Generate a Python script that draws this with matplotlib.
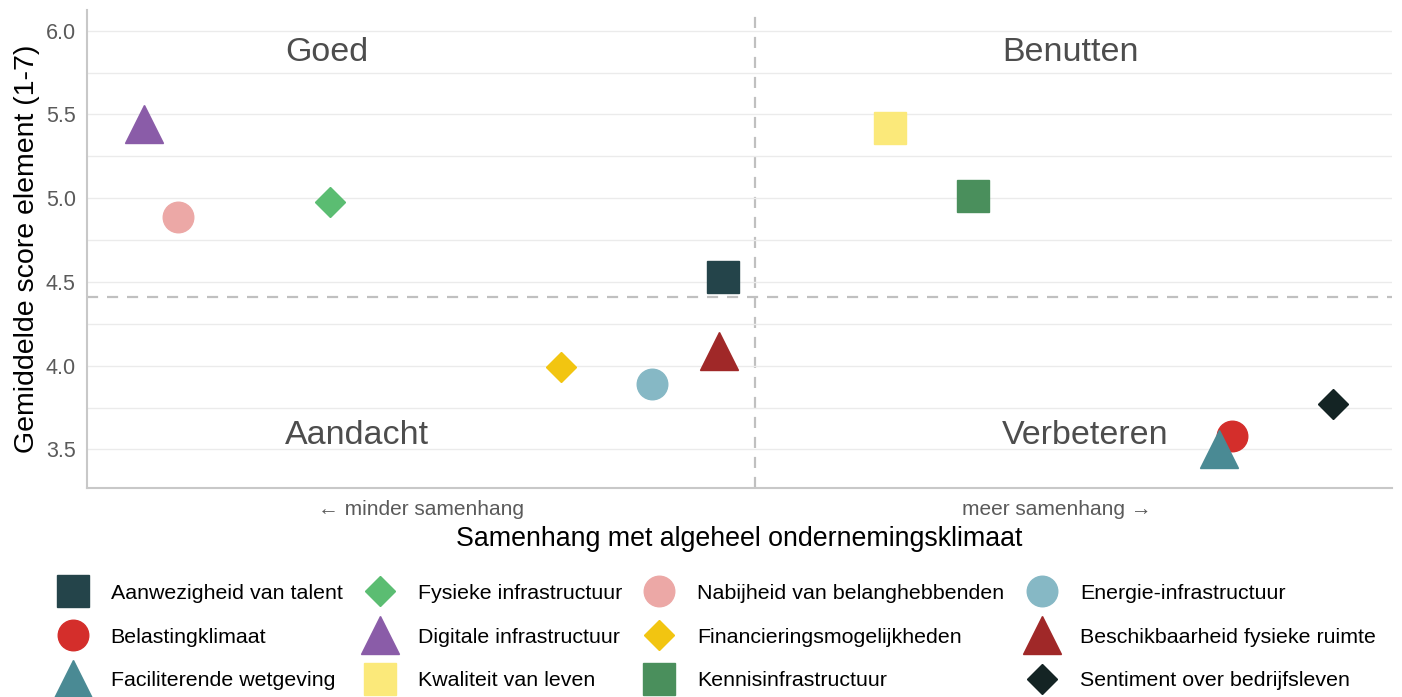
import matplotlib.pyplot as plt
from matplotlib.lines import Line2D

plt.rcParams['font.family'] = ['Liberation Sans', 'DejaVu Sans']

# data (row-major legend order)
elements = [
    "Aanwezigheid van talent", "Fysieke infrastructuur", "Nabijheid van belanghebbenden", "Energie-infrastructuur",
    "Belastingklimaat", "Digitale infrastructuur", "Financieringsmogelijkheden", "Beschikbaarheid fysieke ruimte",
    "Faciliterende wetgeving", "Kwaliteit van leven", "Kennisinfrastructuur", "Sentiment over bedrijfsleven",
]
samenhang = [0.487, 0.186, 0.070, 0.433,
             0.877, 0.044, 0.363, 0.484,
             0.867, 0.615, 0.679, 0.955]
score = [4.53, 4.98, 4.89, 3.89,
         3.58, 5.44, 3.99, 4.09,
         3.50, 5.42, 5.01, 3.77]
colors = ["#24444a", "#5bbd72", "#eca8a6", "#86b8c5",
          "#d42e2b", "#8a5ca8", "#f2c511", "#a02828",
          "#4a8a94", "#fbe97a", "#4a8f5c", "#142424"]
markers = ["s", "D", "o", "o",
           "o", "^", "D", "^",
           "^", "s", "s", "D"]
sizes = {"s": 23, "D": 15.5, "o": 22, "^": 27}

mean_x = 0.512
mean_y = 4.41

fig = plt.figure(figsize=(14.02, 6.97), dpi=100)
ax = fig.add_axes([0.062, 0.300, 0.931, 0.686])

ax.set_yticks([3.25, 3.75, 4.25, 4.75, 5.25, 5.75], minor=True)
ax.set_yticks([3.5, 4.0, 4.5, 5.0, 5.5, 6.0])
ax.grid(axis='y', which='both', color='#ebebeb', linewidth=1.0, zorder=0)

ax.axvline(mean_x, color='#c0c0c0', linestyle=(0, (5, 4)), linewidth=1.6, zorder=1)
ax.axhline(mean_y, color='#c0c0c0', linestyle=(0, (5, 4)), linewidth=1.6, zorder=1)

handles = []
for name, x, y, c, m in zip(elements, samenhang, score, colors, markers):
    ax.plot(x, y, marker=m, color=c, markersize=sizes[m], linestyle='none', zorder=3)
    handles.append(Line2D([], [], marker=m, color=c, markersize=sizes[m], linestyle='none', label=name))

ax.set_xlim(0, 1)
ax.set_ylim(3.27, 6.125)

qcol = '#4d4d4d'
ax.text(0.152, 0.911, "Goed", transform=ax.transAxes, fontsize=24.5, color=qcol, va='center', ha='left')
ax.text(0.701, 0.911, "Benutten", transform=ax.transAxes, fontsize=24.5, color=qcol, va='center', ha='left')
ax.text(0.152, 0.110, "Aandacht", transform=ax.transAxes, fontsize=24.5, color=qcol, va='center', ha='left')
ax.text(0.701, 0.110, "Verbeteren", transform=ax.transAxes, fontsize=24.5, color=qcol, va='center', ha='left')

ax.set_xticks([0.256, 0.743])
ax.set_xticklabels(["\u2190 minder samenhang", "meer samenhang \u2192"], color='#5a5a5a', fontsize=15)
ax.tick_params(axis='y', which='both', length=0, labelsize=15.5, labelcolor='#5a5a5a', pad=8)
ax.tick_params(axis='x', length=0, pad=9)

ax.set_xlabel("Samenhang met algeheel ondernemingsklimaat", fontsize=19.3, labelpad=5)
ax.set_ylabel("Gemiddelde score element (1-7)", fontsize=20.5, labelpad=4)

for s in ['top', 'right']:
    ax.spines[s].set_visible(False)
for s in ['left', 'bottom']:
    ax.spines[s].set_color('#c8c8c8')
    ax.spines[s].set_linewidth(1.5)

# legend fills column-wise, so reorder row-major handles
ncol = 4
nrow = 3
order = [r * ncol + c for c in range(ncol) for r in range(nrow)]
fig.legend([handles[i] for i in order], [elements[i] for i in order],
           ncol=ncol, loc='upper left', bbox_to_anchor=(0.0275, 0.19),
           frameon=False, fontsize=15.4, handletextpad=1.07, columnspacing=1.05,
           labelspacing=1.16, handlelength=1.4)

fig.savefig("out.png", dpi=100)
